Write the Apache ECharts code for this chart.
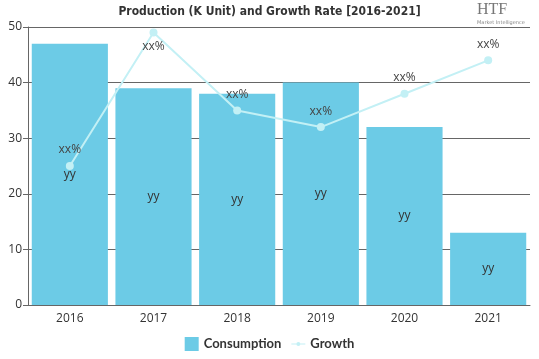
<!DOCTYPE html>
<html><head><meta charset="utf-8">
<script src="https://cdn.jsdelivr.net/npm/echarts@6/dist/echarts.min.js"></script>
<style>html,body{margin:0;padding:0;background:#fff}#c{width:539px;height:359px}</style>
</head><body><div id="c"></div>
<script>
const categories = ['2016','2017','2018','2019','2020','2021'];
const consumption = [47, 39, 38, 40, 32, 13];
const growth = [25, 49, 35, 32, 38, 44];
const yTicks = [0, 10, 20, 30, 40, 50];

const chart = echarts.init(document.getElementById('c'));
chart.setOption({
  animation: false,
  title: {
    text: 'Production (K Unit) and Growth Rate [2016-2021]',
    left: 'center', top: 1,
    textStyle: { fontFamily: 'DejaVu Sans Condensed', fontWeight: 'bold', fontSize: 12, color: '#333' }
  },
  graphic: [
    { type: 'text', left: 477, top: 2, style: { text: 'HTF', font: '16px "Liberation Serif"', fill: '#777' } },
    { type: 'text', left: 477, top: 20, style: { text: 'Market Intelligence', font: '5px "DejaVu Sans"', fill: '#888' } }
  ],
  legend: {
    bottom: 3, left: 'center', itemWidth: 14, itemHeight: 14, itemGap: 10,
    textStyle: { fontFamily: 'Lato', fontWeight: 'bold', fontSize: 13, color: '#333' },
    data: [
      { name: 'Consumption', icon: 'rect' },
      { name: 'Growth', icon: 'path://M0,2h14v1h-14z M9,2.5a2,2 0 1,1 -4,0a2,2 0 1,1 4,0z' }
    ]
  },
  grid: { left: 28, right: 9, top: 27, bottom: 54 },
  xAxis: {
    type: 'category', data: categories,
    axisLine: { lineStyle: { color: '#666' } },
    axisTick: { show: false },
    axisLabel: { color: '#333', fontSize: 12, fontFamily: 'Open Sans', margin: 8 }
  },
  yAxis: {
    type: 'value', min: 0, max: 50, interval: 10,
    axisLine: { show: true, lineStyle: { color: '#666' } },
    axisTick: { show: true, length: 5, lineStyle: { color: '#666' } },
    splitLine: { lineStyle: { color: '#666' } },
    axisLabel: { color: '#333', fontSize: 12, fontFamily: 'Open Sans', margin: 6,
      formatter: v => yTicks.includes(v) ? String(v) : '' }
  },
  series: [
    {
      name: 'Consumption', type: 'bar', data: consumption, barCategoryGap: '9%',
      itemStyle: { color: '#6ccbe6' },
      label: { show: true, position: 'inside', formatter: 'yy', color: '#333', fontSize: 12, fontFamily: 'Open Sans' }
    },
    {
      name: 'Growth', type: 'line',
      data: growth.map((v, i) => i === 1 ? { value: v, label: { position: 'bottom', distance: 4 } } : v),
      lineStyle: { color: '#c3f0f5', width: 2 },
      itemStyle: { color: '#c3f0f5' },
      symbol: 'circle', symbolSize: 8,
      label: { show: true, position: 'top', formatter: 'xx%', color: '#444', fontSize: 12, fontFamily: 'Open Sans', distance: 6 }
    }
  ]
});
</script></body></html>
